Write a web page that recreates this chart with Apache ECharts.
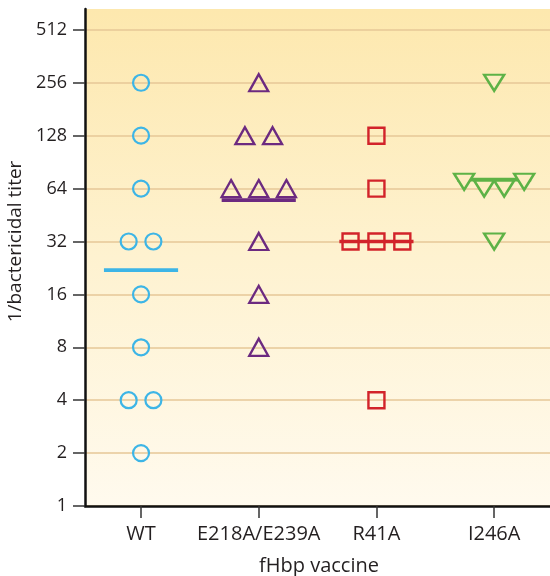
<!DOCTYPE html>
<html>
<head>
<meta charset="utf-8">
<script src="https://cdn.jsdelivr.net/npm/echarts@6/dist/echarts.min.js"></script>
<style>html,body{margin:0;padding:0;background:#fff;}#chart{width:550px;height:576px;}</style>
</head>
<body>
<div id="chart"></div>
<script>
// ---- data ----
const categories = ['WT', 'E218A/E239A', 'R41A', 'I246A'];
const wtTiters = [256, 128, 64, 32, 32, 16, 8, 4, 4, 2];
const e218aTiters = [256, 128, 128, 64, 64, 64, 32, 16, 8];
const r41aTiters = [128, 64, 32, 32, 32, 4];
const i246aTiters = [256, 70, 64, 64, 70, 32];
const meanTiters = [22, 55, 32, 72];
const yTickValues = [1, 2, 4, 8, 16, 32, 64, 128, 256, 512];
const yMax = 673;

// ---- styles ----
const FONT = 'Open Sans';
const groupStyles = [
  { symbol: 'circle', size: 16, rotate: 0, color: '#3DB5E6', fill: 'rgba(0,0,0,0)', width: 2.2, step: 0.21 },
  { symbol: 'triangle', size: [19, 17], rotate: 0, color: '#6C2A80', fill: 'rgba(0,0,0,0)', width: 2.3, step: 0.235 },
  { symbol: 'rect', size: 16, rotate: 0, color: '#D2232A', fill: 'rgba(0,0,0,0)', width: 2.4, step: 0.22 },
  { symbol: 'triangle', size: [20, 16], rotate: 180, color: '#5EB246', fill: '#FEEDC1', width: 2.4, step: 0.17 }
];
const meanHalfWidth = 0.315;

// spread points with (near) equal titers side by side around the category centre
function spread(titers, idx, step) {
  const out = [];
  let i = 0;
  while (i < titers.length) {
    let j = i;
    while (j + 1 < titers.length && Math.abs(Math.log2(titers[j + 1]) - Math.log2(titers[i])) < 0.3) j++;
    const n = j - i + 1;
    for (let k = 0; k < n; k++) out.push([idx + (k - (n - 1) / 2) * step, titers[i + k]]);
    i = j + 1;
  }
  return out;
}

const groups = [wtTiters, e218aTiters, r41aTiters, i246aTiters];
const series = [];
groups.forEach((t, idx) => {
  const st = groupStyles[idx];
  series.push({
    type: 'line',
    data: [[idx - meanHalfWidth, meanTiters[idx]], [idx + meanHalfWidth, meanTiters[idx]]],
    symbol: 'none',
    lineStyle: { color: st.color, width: 3.6 },
    z: 2,
    silent: true
  });
});
groups.forEach((t, idx) => {
  const st = groupStyles[idx];
  series.push({
    type: 'scatter',
    data: spread(t, idx, st.step),
    symbol: st.symbol,
    symbolSize: st.size,
    symbolRotate: st.rotate,
    itemStyle: { color: st.fill, borderColor: st.color, borderWidth: st.width, opacity: 1 },
    z: 3,
    silent: true
  });
});

const chart = echarts.init(document.getElementById('chart'), null, { renderer: 'canvas' });
chart.setOption({
  animation: false,
  backgroundColor: '#ffffff',
  grid: {
    left: 85, top: 9, right: -3, bottom: 70,
    show: true, borderWidth: 0,
    outerBoundsMode: 'none',
    containLabel: false,
    backgroundColor: {
      type: 'linear', x: 0, y: 0, x2: 0, y2: 1,
      colorStops: [
        { offset: 0, color: '#FDE8AE' },
        { offset: 0.5, color: '#FEF2D0' },
        { offset: 1, color: '#FFFAEE' }
      ]
    }
  },
  xAxis: {
    type: 'value',
    min: -0.476,
    max: 3.5,
    name: 'fHbp vaccine',
    nameLocation: 'middle',
    nameGap: 50,
    nameTextStyle: { fontFamily: FONT, fontSize: 20, color: '#231F20' },
    axisLine: { show: true, onZero: false, lineStyle: { color: '#111', width: 2.5 } },
    axisTick: { show: true, length: 12, customValues: [0, 1, 2, 3], lineStyle: { color: '#333', width: 1.5 } },
    axisLabel: {
      customValues: [0, 1, 2, 3],
      margin: 18,
      fontFamily: FONT, fontSize: 20, color: '#231F20',
      formatter: v => categories[Math.round(v)]
    },
    splitLine: { show: false }
  },
  yAxis: {
    type: 'log',
    logBase: 2,
    min: 1,
    max: yMax,
    name: '1/bactericidal titer',
    nameLocation: 'middle',
    nameGap: 57,
    nameTextStyle: { fontFamily: FONT, fontSize: 19, color: '#231F20', padding: [0, 0, 0, 32] },
    axisLine: { show: true, onZero: false, lineStyle: { color: '#111', width: 2.5 } },
    axisTick: { show: true, length: 12, customValues: yTickValues, lineStyle: { color: '#333', width: 1.5 } },
    axisLabel: {
      customValues: yTickValues,
      margin: 18,
      fontFamily: FONT, fontSize: 18, color: '#231F20'
    },
    splitLine: { show: true, lineStyle: { color: '#E6C797', width: 1.6 } }
  },
  series: series
});
</script>
</body>
</html>
